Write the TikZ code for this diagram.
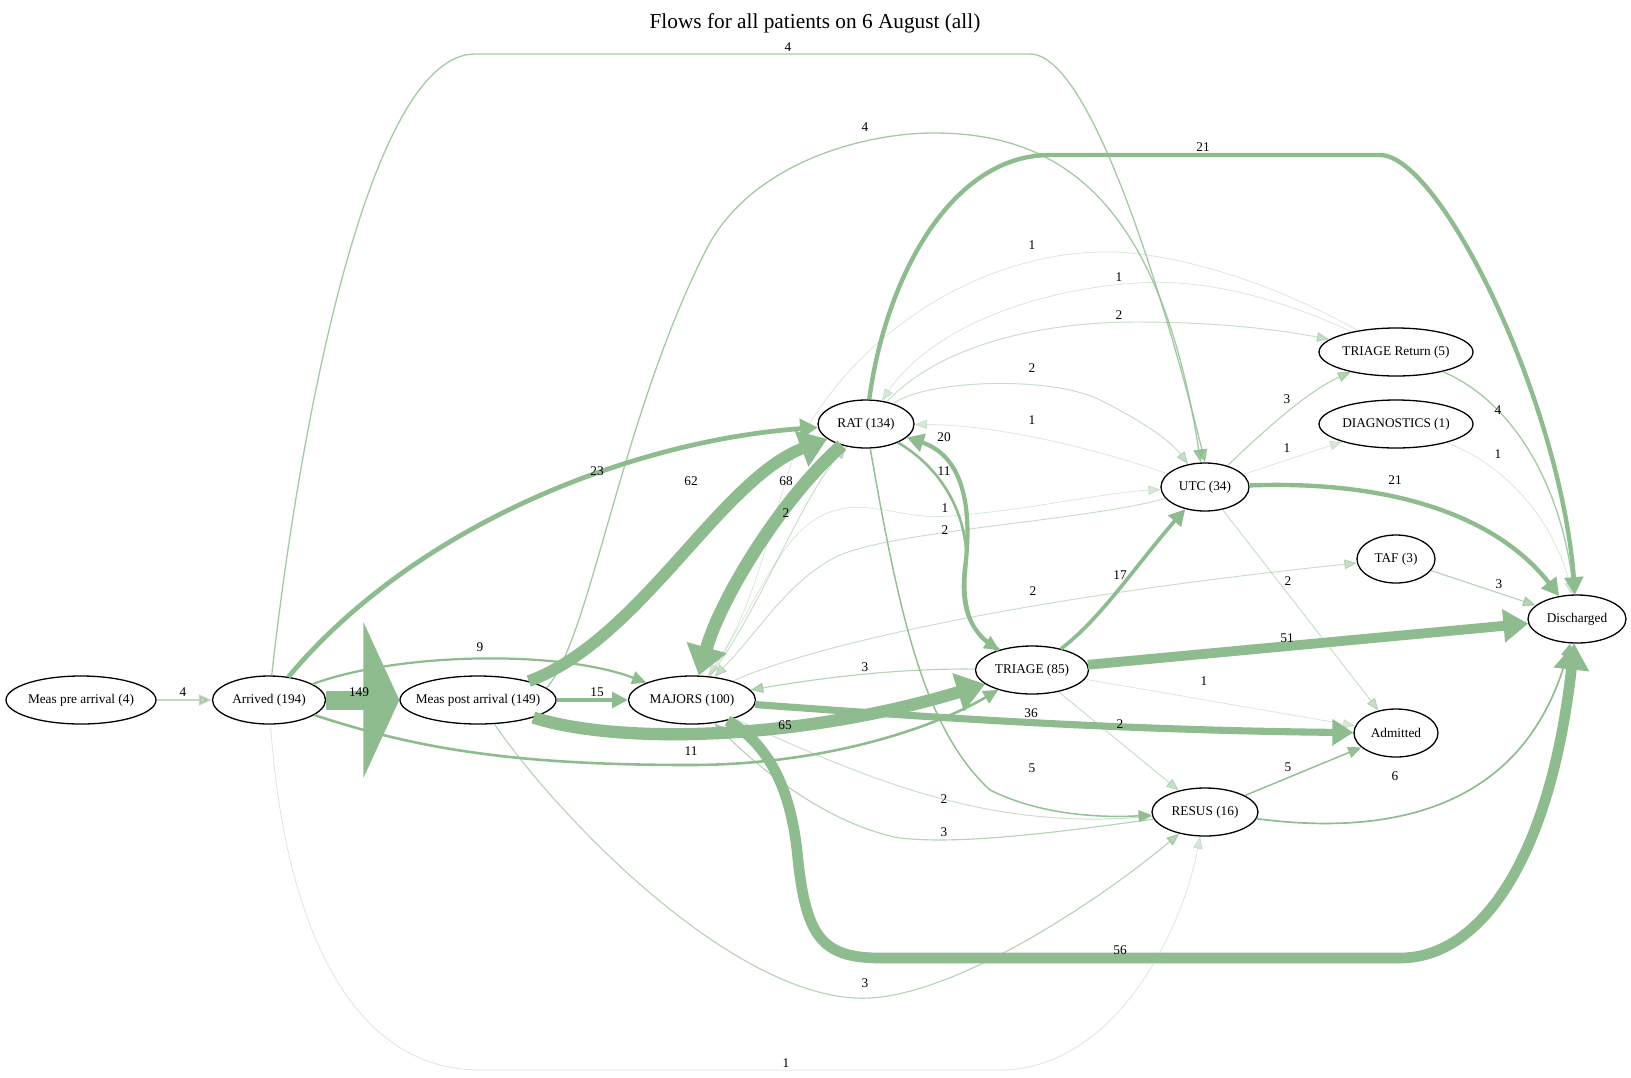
\documentclass[tikz,border=0pt]{standalone}
\usepackage{fontspec}
\setmainfont{Liberation Serif}
\usetikzlibrary{shapes.geometric,arrows.meta}
\definecolor{flowgreen}{HTML}{8FBC8F}

\begin{document}
\begin{tikzpicture}[x=1pt, y=-1pt, thick,
        main node/.style={ellipse, draw, line width=1.3pt, minimum height=48pt,
            inner xsep=-20pt, inner ysep=0pt, font=\fontsize{13.3}{16}\selectfont},
        flow label/.style={inner sep=0pt, font=\fontsize{13.3}{16}\selectfont},
        flow/.code={%
            \pgfmathsetmacro\flowwd{min(19,0.6+0.18*#1)}%
            \pgfmathsetmacro\flowlen{min(36,12+0.25*#1)}%
            \pgfmathsetmacro\flowtip{#1>100 ? 155 : 9+0.45*#1}%
            \pgfmathsetmacro\flowop{min(1,0.2+0.15*#1)}%
            \edef\flowopts{draw=flowgreen, line width=\flowwd pt, opacity=\flowop,
                -{Triangle[length=\flowlen pt, width=\flowtip pt]}}%
            \expandafter\tikzset\expandafter{\flowopts}}]

        \useasboundingbox (0,0) rectangle (1631,1077);

        \node[font=\fontsize{21.3}{26}\selectfont] (title) at (815,23) {Flows for all patients on 6 August (all)};

        \node[main node, minimum width=150pt] (pre) at (81,700) {Meas pre arrival (4)};
        \node[main node, minimum width=113pt] (arr) at (269,700) {Arrived (194)};
        \node[main node, minimum width=156pt] (post) at (478,700) {Meas post arrival (149)};
        \node[main node, minimum width=127pt] (maj) at (692,700) {MAJORS (100)};
        \node[main node, minimum width=96pt] (rat) at (866,424) {RAT (134)};
        \node[main node, minimum width=113pt] (tri) at (1032,670) {TRIAGE (85)};
        \node[main node, minimum width=88pt] (utc) at (1205,487) {UTC (34)};
        \node[main node, minimum width=106pt] (res) at (1205,812) {RESUS (16)};
        \node[main node, minimum width=154pt] (tret) at (1396,352) {TRIAGE Return (5)};
        \node[main node, minimum width=154pt] (diag) at (1396,424) {DIAGNOSTICS (1)};
        \node[main node, minimum width=78pt] (taf) at (1396,559) {TAF (3)};
        \node[main node, minimum width=84pt] (adm) at (1396,733) {Admitted};
        \node[main node, minimum width=98pt] (dis) at (1577,619) {Discharged};

        \draw[flow=4, opacity=0.55, line width=2.5pt] (pre) -- (arr);
        \draw[flow=149] (arr) -- (post);
        \draw[flow=23] (arr) .. controls (420,520) and (640,440) .. (rat);
        \draw[flow=9] (arr) .. controls (400,652) and (560,650) .. (maj);
        \draw[flow=11] (arr) .. controls (420,750) and (520,765) .. (690,765)
            .. controls (820,765) and (930,730) .. (tri);
        \draw[flow=4] (arr) .. controls (300,420) and (370,54) .. (475,54) -- (1030,54)
            .. controls (1100,54) and (1185,380) .. (utc.north);
        \draw[flow=1] (arr) .. controls (282,900) and (340,1070) .. (480,1070) -- (1000,1070)
            .. controls (1110,1070) and (1180,940) .. (res);

        \draw[flow=15] (post) -- (maj);
        \draw[flow=62] (post) .. controls (640,640) and (720,480) .. (rat);
        \draw[flow=65] (post) .. controls (620,745) and (800,740) .. (tri);
        \draw[flow=4] (post.10) .. controls (590,640) and (620,420) .. (706,250)
            .. controls (749,165) and (860,133) .. (934,133)
            .. controls (1060,133) and (1160,200) .. (utc.100);
        \draw[flow=3] (post) .. controls (560,820) and (740,1005) .. (870,998)
            .. controls (960,993) and (1100,900) .. (res);

        \draw[flow=68] (rat) .. controls (780,500) and (720,600) .. (maj);
        \draw[flow=2] (maj) .. controls (760,610) and (800,500) .. (rat);
        \draw[flow=21] (rat) .. controls (885,280) and (950,155) .. (1050,155) -- (1380,155)
            .. controls (1440,155) and (1560,400) .. (dis);
        \draw[flow=11] (rat) .. controls (945,470) and (970,520) .. (966,570)
            .. controls (962,610) and (975,635) .. (tri);
        \draw[flow=20] (tri) .. controls (965,630) and (960,600) .. (966,560)
            .. controls (972,500) and (960,455) .. (rat);
        \draw[flow=2] (rat) .. controls (940,345) and (1040,322) .. (1137,322)
            .. controls (1220,322) and (1280,330) .. (tret);
        \draw[flow=1] (tret) .. controls (1250,285) and (1180,280) .. (1137,283)
            .. controls (1030,290) and (930,330) .. (rat);
        \draw[flow=1] (tret) .. controls (1250,270) and (1150,250) .. (1100,252)
            .. controls (980,255) and (860,330) .. (800,440)
            .. controls (775,500) and (760,600) .. (maj);
        \draw[flow=2] (rat) .. controls (925,380) and (1050,375) .. (1100,400)
            .. controls (1140,420) and (1170,440) .. (utc);
        \draw[flow=1] (utc) .. controls (1100,450) and (1000,425) .. (rat);
        \draw[flow=5] (rat) .. controls (900,620) and (925,730) .. (990,790)
            .. controls (1040,815) and (1100,818) .. (res);

        \draw[flow=1] (maj) .. controls (760,600) and (780,530) .. (830,512)
            .. controls (870,498) and (900,520) .. (950,516)
            .. controls (1030,510) and (1100,493) .. (utc);
        \draw[flow=2] (utc) .. controls (1090,520) and (900,530) .. (840,555)
            .. controls (790,578) and (760,630) .. (maj);
        \draw[flow=36] (maj) .. controls (900,715) and (1100,730) .. (adm);
        \draw[flow=56] (maj) .. controls (770,745) and (790,790) .. (797,850)
            .. controls (805,935) and (820,958) .. (880,958) -- (1400,958)
            .. controls (1480,958) and (1550,860) .. (dis);
        \draw[flow=2] (maj) .. controls (860,775) and (980,830) .. (res);
        \draw[flow=3] (res) .. controls (1060,832) and (960,845) .. (900,838)
            .. controls (830,825) and (760,770) .. (maj);
        \draw[flow=2] (maj) .. controls (800,650) and (1000,600) .. (taf);

        \draw[flow=3] (tri) .. controls (900,668) and (820,678) .. (maj);
        \draw[flow=51] (tri) -- (dis);
        \draw[flow=17] (tri) .. controls (1100,620) and (1140,560) .. (utc);
        \draw[flow=1] (tri) -- (adm);
        \draw[flow=2] (tri) -- (res);

        \draw[flow=21] (utc) .. controls (1400,480) and (1500,520) .. (dis);
        \draw[flow=3] (utc) .. controls (1270,425) and (1310,390) .. (tret);
        \draw[flow=1] (utc) -- (diag);
        \draw[flow=2] (utc) -- (adm);

        \draw[flow=4] (tret) .. controls (1510,400) and (1560,480) .. (dis);
        \draw[flow=1] (diag) .. controls (1520,470) and (1560,540) .. (dis);
        \draw[flow=3] (taf) -- (dis);
        \draw[flow=5] (res) -- (adm);
        \draw[flow=6] (res) .. controls (1420,840) and (1530,790) .. (dis);

        \node[flow label] (l-pre-arr) at (183,692) {4};
        \node[flow label] (l-arr-post) at (359,692) {149};
        \node[flow label] (l-arr-rat) at (597,471) {23};
        \node[flow label] (l-arr-maj) at (480,647) {9};
        \node[flow label] (l-arr-tri) at (691,751) {11};
        \node[flow label] (l-arr-utc) at (788,47) {4};
        \node[flow label] (l-arr-res) at (786,1063) {1};
        \node[flow label] (l-post-maj) at (597,692) {15};
        \node[flow label] (l-post-rat) at (691,481) {62};
        \node[flow label] (l-post-tri) at (785,725) {65};
        \node[flow label] (l-post-utc) at (865,127) {4};
        \node[flow label] (l-post-res) at (865,983) {3};
        \node[flow label] (l-rat-maj) at (786,481) {68};
        \node[flow label] (l-maj-rat) at (786,513) {2};
        \node[flow label] (l-rat-dis) at (1203,147) {21};
        \node[flow label] (l-rat-tri) at (944,471) {11};
        \node[flow label] (l-tri-rat) at (944,437) {20};
        \node[flow label] (l-rat-tret) at (1119,315) {2};
        \node[flow label] (l-tret-rat) at (1119,277) {1};
        \node[flow label] (l-rat-utc) at (1032,368) {2};
        \node[flow label] (l-utc-rat) at (1032,420) {1};
        \node[flow label] (l-rat-res) at (1032,768) {5};
        \node[flow label] (l-tret-maj) at (1032,245) {1};
        \node[flow label] (l-maj-utc) at (945,508) {1};
        \node[flow label] (l-utc-maj) at (945,530) {2};
        \node[flow label] (l-maj-adm) at (1031,713) {36};
        \node[flow label] (l-maj-dis) at (1120,950) {56};
        \node[flow label] (l-maj-res) at (944,799) {2};
        \node[flow label] (l-res-maj) at (944,832) {3};
        \node[flow label] (l-maj-taf) at (1033,591) {2};
        \node[flow label] (l-tri-maj) at (865,667) {3};
        \node[flow label] (l-tri-dis) at (1287,638) {51};
        \node[flow label] (l-tri-utc) at (1120,575) {17};
        \node[flow label] (l-tri-adm) at (1204,681) {1};
        \node[flow label] (l-tri-res) at (1120,724) {2};
        \node[flow label] (l-utc-dis) at (1395,480) {21};
        \node[flow label] (l-utc-tret) at (1287,399) {3};
        \node[flow label] (l-utc-diag) at (1287,448) {1};
        \node[flow label] (l-utc-adm) at (1288,581) {2};
        \node[flow label] (l-tret-dis) at (1498,410) {4};
        \node[flow label] (l-diag-dis) at (1498,454) {1};
        \node[flow label] (l-taf-dis) at (1499,584) {3};
        \node[flow label] (l-res-adm) at (1288,767) {5};
        \node[flow label] (l-res-dis) at (1395,776) {6};
\end{tikzpicture}
\end{document}
